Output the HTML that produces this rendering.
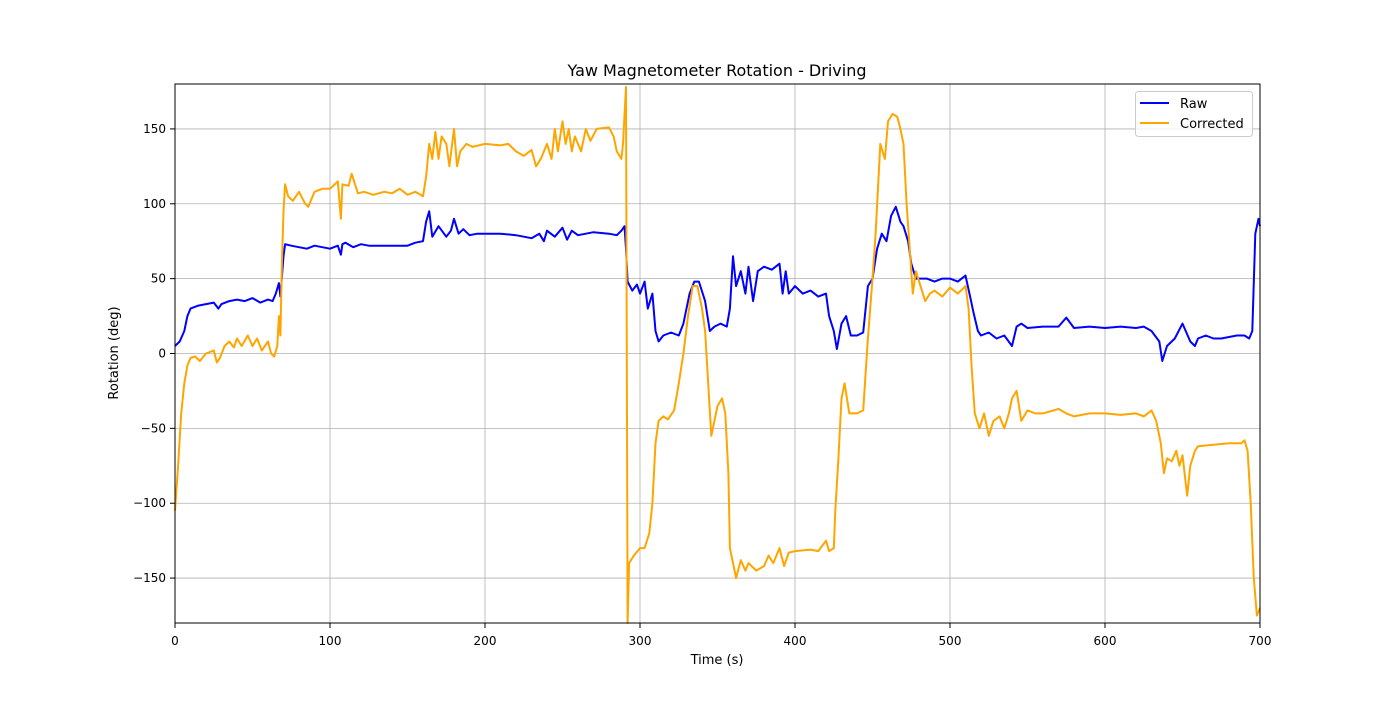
<!DOCTYPE html>
<html><head><meta charset="utf-8"><style>
body{margin:0;background:#fff;}
svg{font-family:"DejaVu Sans","Liberation Sans",sans-serif;}
</style></head><body>
<svg id="chart" width="1400" height="700" xmlns="http://www.w3.org/2000/svg">
<rect width="1400" height="700" fill="#fff"/>
<g id="grid"></g>
<g id="series"></g>
<rect x="175" y="84" width="1085" height="539" fill="none" stroke="#000" stroke-width="1"/>
<g id="ticks" font-size="12"></g>
<text x="717" y="76" text-anchor="middle" font-size="16">Yaw Magnetometer Rotation - Driving</text>
<text x="717" y="664" text-anchor="middle" font-size="13">Time (s)</text>
<text transform="translate(118,353) rotate(-90)" text-anchor="middle" font-size="13">Rotation (deg)</text>
<g>
<rect x="1135.5" y="91.5" width="117" height="45" rx="3" fill="#fff" fill-opacity="0.8" stroke="#ccc"/>
<line x1="1140" y1="103" x2="1169" y2="103" stroke="#0000ff" stroke-width="2"/>
<text x="1180" y="108" font-size="13">Raw</text>
<line x1="1140" y1="123" x2="1169" y2="123" stroke="#ffa500" stroke-width="2"/>
<text x="1180" y="128" font-size="13">Corrected</text>
</g>
</svg>
<script>
const xTicks=[0,100,200,300,400,500,600,700];
const yTicks=[-150,-100,-50,0,50,100,150];
const rawT=[0,3,6,8,10,15,20,25,28,30,35,40,45,50,55,60,63,65,67,68,70,71,75,80,85,90,95,100,105,107,108,110,115,120,125,130,140,150,155,160,162,164,166,170,175,178,180,183,186,190,195,200,210,220,225,230,235,238,240,245,250,253,256,260,265,270,280,285,288,290,291,292,295,298,300,303,305,308,310,312,315,320,325,328,332,335,338,342,345,348,352,356,358,360,362,365,368,370,373,376,380,385,390,392,394,396,400,405,410,415,420,422,425,427,430,433,436,440,444,447,450,453,456,459,462,465,468,470,473,475,478,485,490,495,500,505,510,513,515,518,520,525,530,535,540,543,546,550,560,570,575,580,590,600,610,620,625,630,635,637,640,645,650,655,658,660,665,670,675,680,685,690,693,695,697,699,700];
const rawV=[5,8,15,25,30,32,33,34,30,33,35,36,35,37,34,36,35,40,47,38,65,73,72,71,70,72,71,70,72,66,73,74,71,73,72,72,72,72,74,75,88,95,78,85,78,82,90,80,83,79,80,80,80,79,78,77,80,75,82,78,84,76,82,79,80,81,80,79,82,85,70,48,42,46,40,48,30,40,15,8,12,14,12,20,40,48,48,35,15,18,20,18,30,65,45,55,40,58,35,55,58,56,60,40,55,40,45,40,42,38,40,25,15,3,20,25,12,12,14,45,50,70,80,75,92,98,88,85,75,60,50,50,48,50,50,48,52,38,28,15,12,14,10,12,5,18,20,17,18,18,24,17,18,17,18,17,18,15,8,-5,5,10,20,8,5,10,12,10,10,11,12,12,10,15,80,90,85];
const corT=[0,2,4,6,8,10,13,16,20,25,27,29,32,35,38,40,43,47,50,53,56,60,62,64,66,67,68,69,70,71,73,76,80,84,86,90,95,100,105,107,108,112,114,118,122,128,135,140,145,150,155,160,162,164,166,168,170,172,175,177,180,182,184,188,192,200,210,215,220,225,230,233,236,240,243,245,247,250,252,254,256,258,262,265,268,272,280,283,285,288,289,291,292,293,296,300,303,306,308,310,312,315,318,322,325,328,331,334,337,340,342,344,346,348,350,353,355,357,358,360,362,365,368,370,375,380,383,386,390,393,396,400,410,415,420,422,425,426,428,430,432,435,440,444,447,450,452,455,458,460,463,466,468,470,472,474,476,478,481,484,487,490,495,500,505,510,512,514,516,519,522,525,528,532,535,538,540,543,546,550,555,560,570,575,580,590,600,610,620,625,630,633,636,638,640,643,646,648,650,653,655,658,660,670,680,688,690,692,694,696,698,700];
const corV=[-105,-75,-40,-20,-8,-3,-2,-5,0,2,-6,-3,5,8,4,10,5,12,5,10,2,8,0,-2,5,25,12,60,95,113,105,102,108,100,98,108,110,110,115,90,113,112,120,107,108,106,108,107,110,106,108,105,118,140,130,148,130,145,140,125,150,125,135,140,138,140,139,140,135,132,136,125,130,140,130,150,135,155,140,150,135,145,135,150,142,150,151,145,135,130,140,178,-180,-140,-135,-130,-130,-120,-100,-60,-45,-42,-44,-38,-20,0,25,45,45,30,15,-20,-55,-45,-35,-30,-40,-80,-130,-140,-150,-138,-145,-140,-145,-142,-135,-140,-130,-142,-133,-132,-131,-132,-125,-132,-130,-105,-70,-30,-20,-40,-40,-38,10,50,80,140,130,155,160,158,150,140,100,70,40,55,45,35,40,42,38,44,40,45,30,-10,-40,-50,-40,-55,-45,-42,-50,-40,-30,-25,-45,-38,-40,-40,-37,-40,-42,-40,-40,-41,-40,-42,-38,-45,-60,-80,-70,-72,-65,-75,-68,-95,-75,-65,-62,-61,-60,-60,-58,-65,-100,-150,-175,-170];
const X=t=>175+t*1085/700;
const Y=v=>353.5-v*539/360;
const NS="http://www.w3.org/2000/svg";
const grid=document.getElementById('grid'),ticks=document.getElementById('ticks'),series=document.getElementById('series');
function mk(tag,attrs,parent){const e=document.createElementNS(NS,tag);for(const k in attrs)e.setAttribute(k,attrs[k]);parent.appendChild(e);return e;}
xTicks.forEach(t=>{
 const g=mk('line',{x1:X(t),x2:X(t),y1:84,y2:623,stroke:'#b0b0b0','stroke-width':0.8},grid);
 
 
 const tk=mk('line',{x1:X(t),x2:X(t),y1:623,y2:628,stroke:'#000'},ticks);
 
 
 const l=mk('text',{x:X(t),y:645,'text-anchor':'middle'},ticks);l.textContent=t;
 
 
});
yTicks.forEach(v=>{
 const g=mk('line',{x1:175,x2:1260,y1:Y(v),y2:Y(v),stroke:'#b0b0b0','stroke-width':0.8},grid);
 
 
 const tk=mk('line',{x1:170,x2:175,y1:Y(v),y2:Y(v),stroke:'#000'},ticks);
 
 
 const l=mk('text',{x:166,y:Y(v)+4,'text-anchor':'end'},ticks);l.textContent=String(v).replace('-','\u2212');
 
 
});
function line(T,V,color,name){
 const d=T.map((t,i)=>(i?'L':'M')+X(t).toFixed(1)+','+Y(V[i]).toFixed(1)).join('');
 const p=mk('path',{d:d,fill:'none',stroke:color,'stroke-width':2,'stroke-linejoin':'round'},series);
 
 
}
line(rawT,rawV,'#0000ff','raw-line');
line(corT,corV,'#ffa500','corrected-line');
</script>
</body></html>
